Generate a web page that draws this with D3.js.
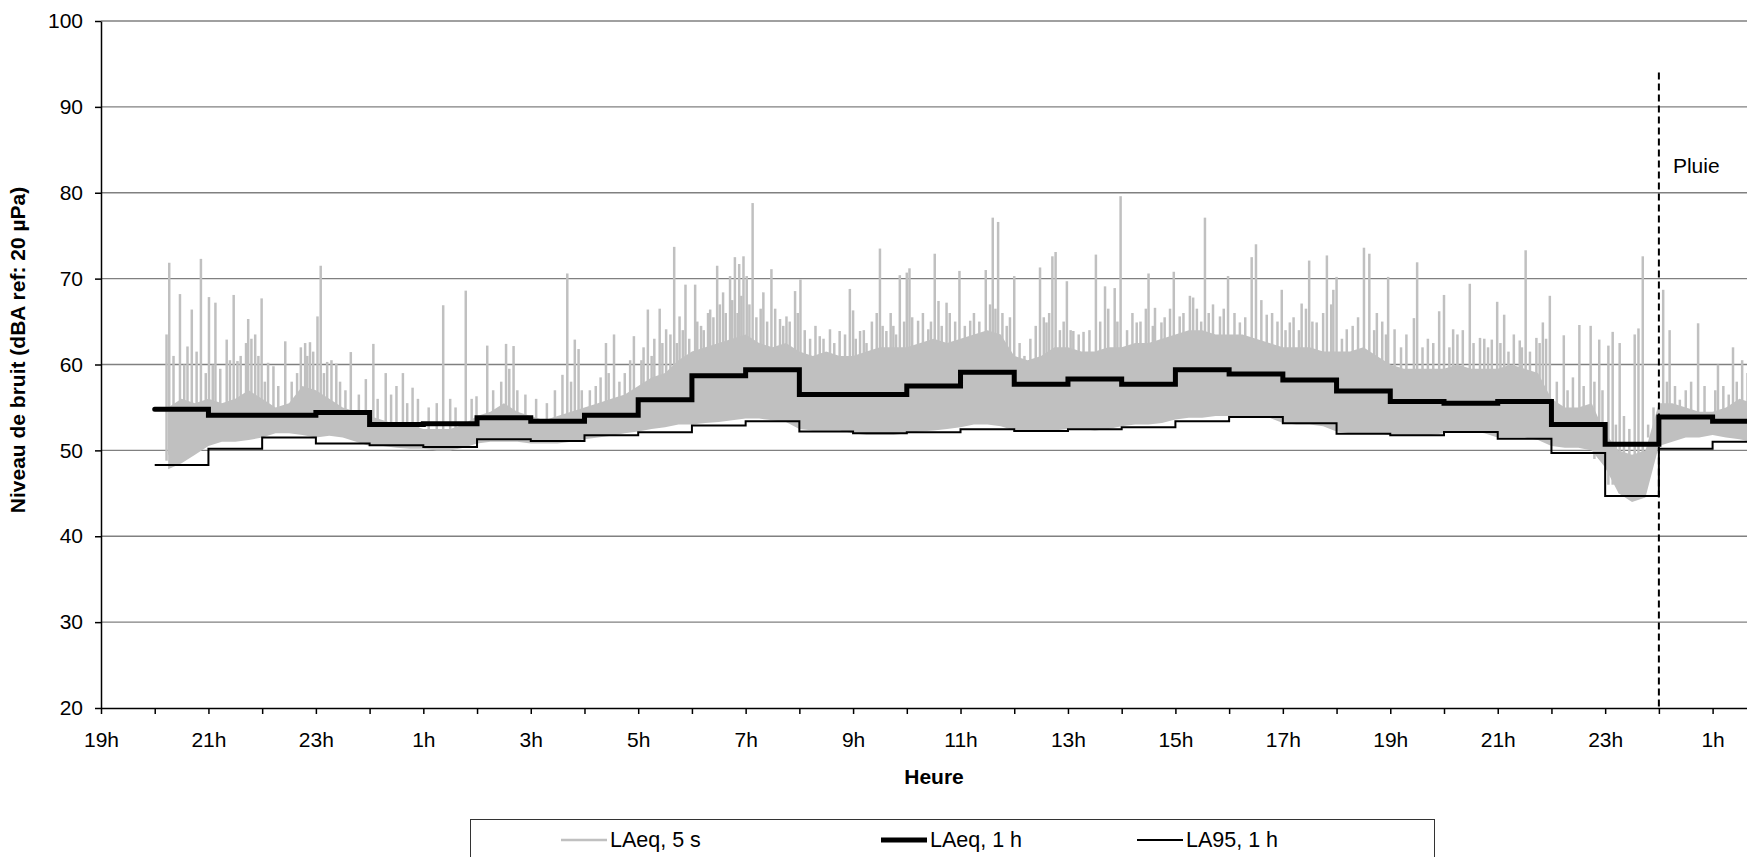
<!DOCTYPE html>
<html>
<head>
<meta charset="utf-8">
<script src="https://cdn.jsdelivr.net/npm/d3@7"></script>
<style>
  body { margin: 0; background: #fff; overflow: hidden; }
  svg text { font-family: "Liberation Sans", Arial, sans-serif; }
</style>
</head>
<body>
<div id="chart"></div>
<script>
// Hourly values (start hour of each 1 h interval, 24 = midnight, 48 = next midnight)
const hourStarts = [20, 21, 22, 23, 24, 25, 26, 27, 28, 29, 30, 31, 32, 33, 34,
    35, 36, 37, 38, 39, 40, 41, 42, 43, 44, 45, 46, 47, 48, 49];
const laeq1h = [54.8, 54.1, 54.1, 54.4, 53.0, 53.1, 53.8, 53.4, 54.1, 55.9, 58.7, 59.4, 56.5, 56.5, 57.5,
    59.1, 57.7, 58.3, 57.7, 59.4, 58.9, 58.2, 56.9, 55.7, 55.5, 55.7, 53.0, 50.7, 53.9, 53.4];
const la95 = [48.3, 50.2, 51.5, 50.8, 50.6, 50.4, 51.3, 51.1, 51.75, 52.1, 52.9, 53.4, 52.2, 52.0, 52.1,
    52.45, 52.25, 52.45, 52.7, 53.4, 53.9, 53.15, 51.95, 51.75, 52.15, 51.35, 49.7, 44.7, 50.2, 51.0];
const dataEnd = 50.9;

// LAeq 5 s, read as a band (low / high every 15 min from 20h15) plus the peaks above it
const bandStart = 20.25;
const bandStep = 0.25;
const bandLow = [
    47.8, 48.5, 49.5,
    50.5, 51, 51, 51.2,
    51.5, 52, 52, 51.8,
    51.5, 51.7, 51.5, 51,
    50.5, 50.5, 50.3, 50.2,
    50.2, 50, 50, 50.3,
    50.8, 51, 51, 51,
    50.8, 50.8, 50.8, 51,
    51.3, 51.5, 51.7, 52,
    52.2, 52.5, 52.7, 53,
    53, 53.2, 53.3, 53.5,
    53.7, 53.7, 53.5, 53.3,
    52.5, 52.3, 52.3, 52.3,
    52, 51.8, 51.8, 51.8,
    52, 52.2, 52.3, 52.5,
    52.7, 53, 53, 52.8,
    52.3, 52.2, 52.2, 52.3,
    52.5, 52.5, 52.3, 52.5,
    52.8, 53, 53, 53.2,
    53.6, 53.8, 53.8, 54,
    54, 54, 54, 53.8,
    53.2, 53, 53, 52.8,
    52.2, 52, 52, 52,
    51.8, 51.8, 51.8, 51.8,
    52, 52.2, 52.2, 52,
    51.5, 51.5, 51.5, 51.2,
    50.5, 50.3, 50.3, 50,
    48, 45, 44, 44.5,
    50.5, 51, 51.5, 51.5,
    51.8, 51.5, 51.3, 51
];
const bandHigh = [
    55, 56, 55.5,
    56, 55.5, 56, 57,
    56, 55, 55.5, 57.5,
    57, 56, 55, 54.5,
    54, 53.5, 53, 53,
    52.5, 52.5, 52.5, 53,
    54, 54.5, 55.5, 54.5,
    54, 53.5, 54, 54.5,
    55, 55.5, 56, 56.5,
    57.5, 58.5, 59, 60.5,
    61.5, 62, 62.5, 63,
    63.5, 62.5, 62, 62.5,
    61.5, 61, 61.5, 61,
    61, 61.5, 62, 62,
    62, 62.5, 63, 62.5,
    63, 63.5, 64, 63.5,
    61, 60.5, 61, 62,
    62, 61.5, 61.5, 62,
    62, 62.5, 62.5, 63,
    63.5, 64, 64, 63.5,
    63.5, 63.5, 63, 62.5,
    62, 62, 62, 61.5,
    61.5, 61.5, 62, 61,
    60, 59.5, 59.5, 59.5,
    59.5, 60, 59.5, 59.5,
    59.5, 60, 59.5, 59,
    56, 55, 55, 55.5,
    52, 50, 49.5, 50,
    55.5, 55.5, 55, 54.5,
    54.5, 55, 56, 55.5
];
// isolated peaks (hour, dB)
const peaks = [
    [20.22, 63.5], [20.27, 71.85], [20.47, 68.2], [20.61, 62.1], [20.69, 66.4], [20.86, 72.3],
    [21.01, 67.85], [21.13, 67.2], [21.34, 62.9], [21.47, 68.1], [21.54, 60.4], [21.74, 65.3],
    [21.87, 63.5], [21.99, 67.7], [22.11, 60.2], [22.21, 59.8], [22.43, 62.7], [22.8, 62.5],
    [22.89, 62.6], [23.03, 65.6], [23.09, 71.5], [23.21, 60.3], [23.29, 60.5], [23.38, 60.1],
    [23.65, 61.45], [23.93, 58.3], [24.07, 62.4], [24.3, 59], [24.62, 59], [24.8, 57.3],
    [25.37, 66.9], [25.79, 68.6], [25.99, 56.3], [26.19, 62.2], [26.54, 62.4], [26.68, 62.15],
    [27.59, 58.8], [27.68, 70.6], [27.82, 62.9], [27.89, 61.8], [28.21, 57.5], [28.4, 62.5],
    [28.55, 63.5], [28.92, 63.3], [29.06, 60.5], [29.18, 66.4], [29.4, 66.5], [29.52, 64.1],
    [29.67, 73.7], [29.77, 65.6], [29.88, 69.3], [30.06, 69.3], [30.17, 64.5], [30.34, 66.4],
    [30.47, 71.5], [30.58, 68.4], [30.71, 70.3], [30.8, 72.5], [30.88, 71.7], [30.96, 72.6],
    [31.02, 70.3], [31.13, 78.8], [31.33, 68.4], [31.48, 71.1], [31.64, 65.3], [31.76, 65.6],
    [31.92, 68.55], [32.02, 69.9], [32.38, 63.3], [32.57, 64.1], [32.75, 63.9], [32.94, 68.8],
    [33.0, 66.3], [33.13, 63.9], [33.25, 62.5], [33.44, 66], [33.5, 73.5], [33.62, 63.9],
    [33.75, 64.5], [33.87, 70.4], [34.0, 70.7], [34.05, 71.2], [34.21, 65.1], [34.4, 64.1],
    [34.52, 72.9], [34.59, 67.4], [34.74, 67.2], [34.98, 70.9], [35.18, 65.1], [35.47, 71],
    [35.6, 77.1], [35.7, 76.6], [35.86, 64.5], [36.0, 70.3], [36.19, 61], [36.48, 71.3],
    [36.6, 64.9], [36.71, 72.6], [36.77, 73.1], [36.98, 69.7], [37.1, 63.9], [37.29, 63.8],
    [37.52, 72.8], [37.69, 69.1], [37.87, 68.9], [37.98, 79.6], [38.28, 64.9], [38.5, 70.6],
    [38.62, 66.6], [38.74, 64.9], [38.97, 70.8], [39.08, 65.6], [39.27, 68], [39.33, 67.8],
    [39.55, 77.1], [39.83, 65.6], [39.98, 70.3], [40.2, 64.9], [40.42, 72.5], [40.5, 74],
    [40.7, 65.8], [40.98, 68.7], [41.13, 64.9], [41.35, 67.1], [41.49, 72.1], [41.63, 64.9],
    [41.82, 72.7], [41.94, 68.7], [42.0, 70.2], [42.19, 64.1], [42.51, 73.6], [42.61, 72.9],
    [42.75, 66], [42.96, 70.2], [43.08, 64.1], [43.44, 65.4], [43.5, 71.9], [43.91, 66.2],
    [44.0, 68.1], [44.17, 64.1], [44.48, 69.4], [44.67, 63.1], [44.89, 62.9], [44.99, 67.3],
    [45.12, 65.8], [45.41, 62.8], [45.52, 73.3], [45.72, 63.1], [45.84, 64.9], [45.97, 68],
    [46.23, 63.4], [46.52, 64.6], [46.73, 64.5], [46.89, 62.9], [47.06, 62.2], [47.14, 63.8],
    [47.27, 62.5], [47.55, 63.5], [47.62, 64.2], [47.7, 72.6], [48.08, 68.7], [48.2, 64],
    [48.39, 55.9], [48.73, 64.8], [49.1, 60], [49.38, 62], [49.55, 60.5]
];
// smaller bursts that make the ragged top of the band (hour, dB)
const bursts = [
    [20.35, 61], [20.55, 60], [20.78, 61.5], [20.95, 59],
    [21.08, 60], [21.22, 59.5], [21.4, 60.5], [21.6, 61], [21.7, 62.5], [21.8, 63], [21.93, 61],
    [22.05, 58], [22.3, 57.5], [22.55, 58], [22.65, 59], [22.72, 62], [22.84, 61], [22.95, 61.5],
    [23.15, 59], [23.45, 58], [23.55, 57], [23.8, 56.5],
    [24.15, 56], [24.4, 56.5], [24.5, 57.5], [24.7, 55.5], [24.9, 56], [25.1, 55], [25.25, 55.5],
    [25.5, 56], [25.6, 55], [25.9, 56],
    [26.3, 57], [26.45, 58], [26.6, 59.5], [26.75, 57], [26.9, 56.5],
    [27.1, 56], [27.3, 55.5], [27.45, 57], [27.75, 58], [27.95, 57],
    [28.1, 57], [28.3, 58.5], [28.45, 59], [28.65, 58], [28.75, 59], [28.85, 60.5],
    [29.1, 62], [29.25, 61], [29.3, 63], [29.45, 62.5], [29.6, 63.5], [29.72, 62.5], [29.83, 64], [29.95, 63],
    [30.1, 65], [30.22, 64], [30.3, 66], [30.4, 65.5], [30.52, 67], [30.63, 66], [30.75, 67.5],
    [30.85, 66], [30.92, 68],
    [31.07, 67], [31.2, 65.5], [31.28, 66.5], [31.4, 65], [31.55, 66.5], [31.7, 64.5], [31.82, 65], [31.97, 66],
    [32.1, 64], [32.2, 63], [32.3, 64.5], [32.45, 63], [32.65, 62.5], [32.85, 63.5],
    [33.05, 63], [33.2, 64], [33.35, 65], [33.55, 64.5], [33.7, 66], [33.8, 63.5], [33.95, 65],
    [34.1, 65.5], [34.3, 66], [34.45, 65], [34.65, 64.5], [34.8, 66], [34.9, 65],
    [35.08, 64.5], [35.25, 66], [35.35, 65], [35.55, 67], [35.65, 66.5], [35.78, 66], [35.92, 65.5],
    [36.1, 62.5], [36.3, 63], [36.4, 64.5], [36.55, 65.5], [36.65, 66], [36.85, 64], [36.92, 65],
    [37.05, 64], [37.2, 63.5], [37.4, 64], [37.6, 65], [37.75, 66.5], [37.92, 65],
    [38.1, 64], [38.2, 66], [38.35, 65], [38.45, 66.5], [38.58, 64.5], [38.8, 65.5], [38.9, 66.5],
    [39.15, 66], [39.4, 66.5], [39.48, 65], [39.62, 66], [39.7, 67], [39.9, 66.5],
    [40.1, 66], [40.3, 65.5], [40.6, 67.5], [40.8, 66], [40.9, 65],
    [41.05, 64], [41.2, 65.5], [41.3, 64], [41.43, 66.5], [41.55, 65], [41.75, 66], [41.9, 67],
    [42.1, 63], [42.3, 64.5], [42.4, 65.5], [42.7, 64], [42.85, 65], [42.92, 63.5],
    [43.2, 62], [43.3, 63.5], [43.6, 62], [43.7, 63], [43.8, 62.5],
    [44.1, 62], [44.25, 63.5], [44.35, 64], [44.55, 62.5], [44.75, 63], [44.82, 62],
    [45.05, 62.5], [45.2, 61.5], [45.3, 63.5], [45.45, 62], [45.6, 61.5], [45.78, 62.5], [45.9, 63],
    [46.1, 58], [46.3, 57], [46.4, 58.5], [46.6, 57.5], [46.8, 58], [46.95, 57],
    [47.2, 53], [47.35, 54], [47.45, 52.5], [47.8, 53], [47.9, 55],
    [48.15, 58], [48.3, 57.5], [48.5, 57], [48.6, 58], [48.85, 57.5],
    [49.05, 57], [49.2, 57.5], [49.3, 56.5], [49.45, 58], [49.65, 59], [49.75, 58]
];

// Axis ticks
const yTicks = [20, 30, 40, 50, 60, 70, 80, 90, 100];
const hourMarks = d3.range(19, 52);
const labelHours = [19, 21, 23, 25, 27, 29, 31, 33, 35, 37, 39, 41, 43, 45, 47, 49];
const labelTexts = ["19h", "21h", "23h", "1h", "3h", "5h", "7h", "9h", "11h", "13h", "15h",
    "17h", "19h", "21h", "23h", "1h"];

// Rain marker
const rainHour = 48;
const rainTop = 94;
const rainLabel = "Pluie";

const legendItems = [
    { label: "LAeq, 5 s", color: "#c0c0c0", width: 2.5 },
    { label: "LAeq, 1 h", color: "#000", width: 5 },
    { label: "LA95, 1 h", color: "#000", width: 2 }
];

const W = 1747, H = 857;
const plot = { left: 101, top: 21, bottom: 708, hour: 53.72 };

function createChart() {
    const svg = d3.select("#chart").append("svg")
        .attr("width", W)
        .attr("height", H);

    const x = d3.scaleLinear()
        .domain([19, 52])
        .range([plot.left, plot.left + 33 * plot.hour]);
    const y = d3.scaleLinear()
        .domain([20, 100])
        .range([plot.bottom, plot.top]);

    // gridlines
    svg.append("g")
        .selectAll("line")
        .data(yTicks.filter(d => d > 20))
        .enter().append("line")
        .attr("x1", plot.left).attr("x2", W)
        .attr("y1", d => y(d)).attr("y2", d => y(d))
        .attr("stroke", "#808080")
        .attr("stroke-width", 1.3);

    // LAeq 5 s band
    const band = bandLow.map((lo, i) => ({ t: bandStart + i * bandStep, lo: lo, hi: bandHigh[i] }));
    svg.append("path")
        .datum(band)
        .attr("fill", "#c0c0c0")
        .attr("d", d3.area()
            .x(d => x(d.t))
            .y0(d => y(d.lo))
            .y1(d => y(d.hi)));

    const bis = d3.bisector(d => d.t).left;
    const baseOf = t => {
        const b = band[Math.min(band.length - 1, Math.max(0, bis(band, t)))];
        return y(b.lo + 1);
    };
    const drawSpikes = (list, w) => svg.append("g")
        .selectAll("line")
        .data(list)
        .enter().append("line")
        .attr("x1", d => x(d[0])).attr("x2", d => x(d[0]))
        .attr("y1", d => baseOf(d[0]))
        .attr("y2", d => y(d[1]))
        .attr("stroke", "#c0c0c0")
        .attr("stroke-width", w);
    drawSpikes(bursts, 2.5);
    drawSpikes(peaks, 2.5);

    // hourly step lines
    const stepLine = d3.line()
        .x(d => x(d[0]))
        .y(d => y(d[1]))
        .curve(d3.curveStepAfter);
    const steps = vals => hourStarts.map((h, i) => [h, vals[i]])
        .concat([[dataEnd, vals[vals.length - 1]]]);

    svg.append("path")
        .datum(steps(la95))
        .attr("fill", "none")
        .attr("stroke", "#000")
        .attr("stroke-width", 2)
        .attr("d", stepLine);

    svg.append("path")
        .datum(steps(laeq1h))
        .attr("fill", "none")
        .attr("stroke", "#000")
        .attr("stroke-width", 5)
        .attr("stroke-linecap", "round")
        .attr("d", stepLine);

    // axes
    const xAxis = svg.append("g")
        .attr("transform", `translate(0,${plot.bottom})`)
        .call(d3.axisBottom(x)
            .tickValues(hourMarks)
            .tickSize(6)
            .tickSizeOuter(0)
            .tickPadding(18)
            .tickFormat(d => {
                const i = labelHours.indexOf(d);
                return i < 0 ? "" : labelTexts[i];
            }));
    xAxis.selectAll("path, line").attr("stroke", "#000").attr("stroke-width", 1.5);
    xAxis.selectAll("text").attr("font-size", "21px").attr("fill", "#000")
        .style("font-family", '"Liberation Sans", Arial, sans-serif');

    const yAxis = svg.append("g")
        .attr("transform", `translate(${plot.left},0)`)
        .call(d3.axisLeft(y)
            .tickValues(yTicks)
            .tickSize(6)
            .tickSizeOuter(0)
            .tickPadding(12));
    yAxis.selectAll("path, line").attr("stroke", "#000").attr("stroke-width", 1.5);
    yAxis.selectAll("text").attr("font-size", "21px").attr("fill", "#000")
        .style("font-family", '"Liberation Sans", Arial, sans-serif');

    // rain marker
    svg.append("line")
        .attr("x1", x(rainHour)).attr("x2", x(rainHour))
        .attr("y1", y(rainTop)).attr("y2", plot.bottom)
        .attr("stroke", "#000")
        .attr("stroke-width", 2)
        .attr("stroke-dasharray", "7,4");
    svg.append("text")
        .attr("x", x(rainHour) + 14)
        .attr("y", 173)
        .attr("font-size", "21px")
        .text(rainLabel);

    // titles
    svg.append("text")
        .attr("transform", "translate(25,350) rotate(-90)")
        .attr("text-anchor", "middle")
        .attr("font-size", "21px")
        .attr("font-weight", "bold")
        .text("Niveau de bruit (dBA ref: 20 \u00b5Pa)");
    svg.append("text")
        .attr("x", 934)
        .attr("y", 784)
        .attr("text-anchor", "middle")
        .attr("font-size", "21px")
        .attr("font-weight", "bold")
        .text("Heure");

    // legend
    const lg = svg.append("g");
    lg.append("rect")
        .attr("x", 470.5).attr("y", 819.5)
        .attr("width", 964).attr("height", 60)
        .attr("fill", "#fff")
        .attr("stroke", "#333")
        .attr("stroke-width", 1);
    const itemX = [561, 881, 1137];
    legendItems.forEach((d, i) => {
        lg.append("line")
            .attr("x1", itemX[i]).attr("x2", itemX[i] + 46)
            .attr("y1", 840).attr("y2", 840)
            .attr("stroke", d.color)
            .attr("stroke-width", d.width);
        lg.append("text")
            .attr("x", itemX[i] + 49)
            .attr("y", 847)
            .attr("font-size", "21.5px")
            .text(d.label);
    });
}

document.addEventListener('DOMContentLoaded', function() {
    createChart();
});
</script>
</body>
</html>
